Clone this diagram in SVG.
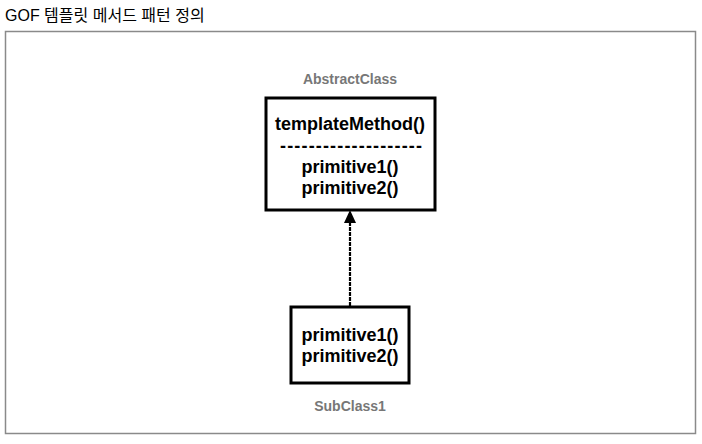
<svg xmlns="http://www.w3.org/2000/svg" width="702" height="444" viewBox="0 0 702 444">
<style>
.t{font-family:"Liberation Sans",Arial,sans-serif;font-weight:bold;font-size:18px;fill:#000;text-anchor:middle}
.lbl{font-family:"Liberation Sans",Arial,sans-serif;font-weight:bold;font-size:14px;fill:#777;text-anchor:middle}
.box{fill:#fff;stroke:#000;stroke-width:3}
</style>
<rect width="702" height="444" fill="#fff"/>
<text x="5" y="21" font-family="'Liberation Sans','Noto Sans CJK KR',sans-serif" font-size="16" fill="#000">GOF 템플릿 메서드 패턴 정의</text>
<rect x="5.5" y="31.5" width="690" height="402" fill="none" stroke="#8a8a8a" stroke-width="1.5"/>
<g id="connectors">
<line x1="350" y1="306" x2="350" y2="222" stroke="#000" stroke-width="2.2" stroke-dasharray="4,1"/>
<path d="M344,223 L350,210 L356,223 Z" fill="#000"/>
</g>
<g id="AbstractClass">
<text class="lbl" x="350" y="84">AbstractClass</text>
<rect class="box" x="266" y="98" width="169" height="112"/>
<text class="t" x="350" y="130">templateMethod()</text>
<text class="t" x="351" y="152" textLength="142" lengthAdjust="spacing">--------------------</text>
<text class="t" x="350" y="173">primitive1()</text>
<text class="t" x="350" y="194">primitive2()</text>
</g>
<g id="SubClass1">
<rect class="box" x="291" y="307" width="118" height="76"/>
<text class="t" x="350" y="341">primitive1()</text>
<text class="t" x="350" y="362">primitive2()</text>
<text class="lbl" x="350" y="411">SubClass1</text>
</g>
</svg>
